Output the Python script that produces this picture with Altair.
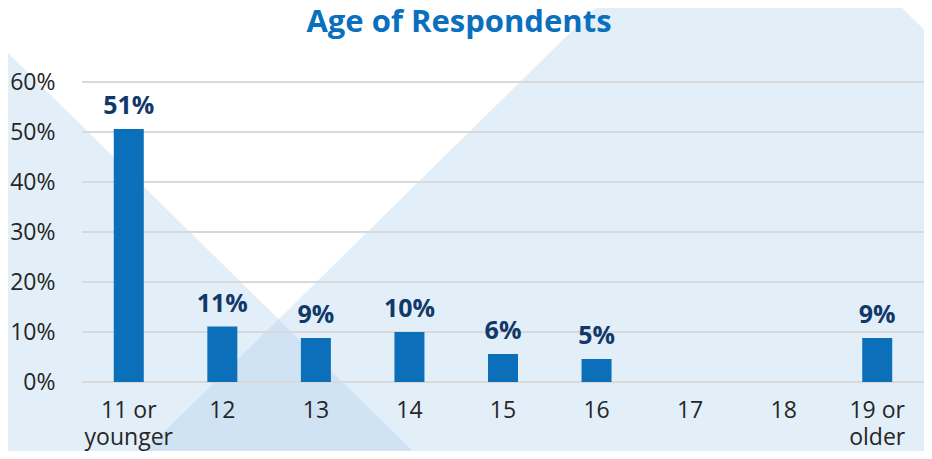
import altair as alt
import pandas as pd

# ---- chart data ----
categories = ["11 or younger", "12", "13", "14", "15", "16", "17", "18", "19 or older"]
percent = [50.6, 11.1, 8.8, 10.0, 5.6, 4.6, 0, 0, 8.8]
value_labels = ["51%", "11%", "9%", "10%", "6%", "5%", "", "", "9%"]
y_ticks = [0, 10, 20, 30, 40, 50, 60]

# ---- decorative background triangles (outline points in the reference picture's frame) ----
deco_left_x = [-39, 475]
deco_left_top = [6, 520]
deco_right_x = [86, 600, 910, 990]
deco_right_top = [520, 6, 6, 86]
deco_overlap_x = [86, 280.5, 475]
deco_overlap_top = [520, 325.5, 520]
deco_bottom = 520

W, H = 842, 300
FONT = "Open Sans"

df = pd.DataFrame({"age": categories, "pct": percent, "label": value_labels})
grid_df = pd.DataFrame({"tick": y_ticks})

light_df = pd.concat([
    pd.DataFrame({"shape": "left", "px": deco_left_x, "top": deco_left_top}),
    pd.DataFrame({"shape": "right", "px": deco_right_x, "top": deco_right_top}),
])
light_df["bottom"] = deco_bottom
dark_df = pd.DataFrame({"px": deco_overlap_x, "top": deco_overlap_top})
dark_df["bottom"] = deco_bottom


def deco_x():
    return alt.X("px:Q", scale=alt.Scale(domain=[82, 932], nice=False, zero=False), axis=None)


def deco_y():
    return alt.Y("top:Q", scale=alt.Scale(domain=[390, 82], nice=False, zero=False), axis=None)


def x_scale():
    return alt.Scale(domain=categories, paddingInner=0, paddingOuter=0)


def y_scale():
    return alt.Scale(domain=[0, 60], nice=False, zero=True)


light = alt.Chart(light_df).mark_area(color="#E2EFF9", clip=False).encode(
    x=deco_x(), y=deco_y(), y2="bottom:Q", detail="shape:N"
)
dark = alt.Chart(dark_df).mark_area(color="#D0E3F4", clip=False).encode(
    x=deco_x(), y=deco_y(), y2="bottom:Q"
)

grid = alt.Chart(grid_df).mark_rule(color="#D9D9D9", strokeWidth=2).encode(
    y=alt.Y("tick:Q", scale=y_scale(), axis=None)
)

bars = alt.Chart(df).mark_bar(color="#0B6FBA", size=30).encode(
    x=alt.X(
        "age:N",
        sort=categories,
        scale=x_scale(),
        title=None,
        axis=alt.Axis(
            orient="bottom",
            labelAngle=0,
            labelFont=FONT,
            labelFontSize=23,
            labelColor="#262626",
            labelPadding=17,
            labelLineHeight=27,
            ticks=False,
            domain=False,
            grid=False,
            zindex=1,
            labelExpr="split(replace(datum.label, ' or ', ' or|'), '|')",
        ),
    ),
    y=alt.Y(
        "pct:Q",
        scale=y_scale(),
        title=None,
        axis=alt.Axis(
            orient="left",
            values=y_ticks,
            labelExpr="datum.value + '%'",
            labelFont=FONT,
            labelFontSize=23,
            labelColor="#262626",
            labelPadding=27,
            ticks=False,
            domain=False,
            grid=False,
            zindex=1,
        ),
    ),
)

texts = alt.Chart(df).transform_filter("datum.pct > 0").mark_text(
    font=FONT, fontSize=25, fontWeight="bold", color="#12386A",
    baseline="alphabetic", dy=-15,
).encode(
    x=alt.X("age:N", sort=categories, scale=x_scale(), axis=None),
    y=alt.Y("pct:Q", scale=y_scale(), axis=None),
    text="label:N",
)

chart = alt.layer(light, dark, grid, bars, texts).resolve_scale(
    x="independent", y="independent"
).properties(
    width=W,
    height=H,
    autosize=alt.AutoSizeParams(type="none"),
    padding={"left": 74, "top": 74, "right": 0, "bottom": 69},
    background="white",
    title=alt.TitleParams(
        "Age of Respondents",
        font=FONT,
        fontSize=31,
        fontWeight="bold",
        color="#0A70BE",
        anchor="middle",
        frame="group",
        dx=-44,
        offset=0,
        dy=31,
    ),
).configure_view(stroke=None)

chart.save("out.html", embed_options={"renderer": "svg", "actions": False})
